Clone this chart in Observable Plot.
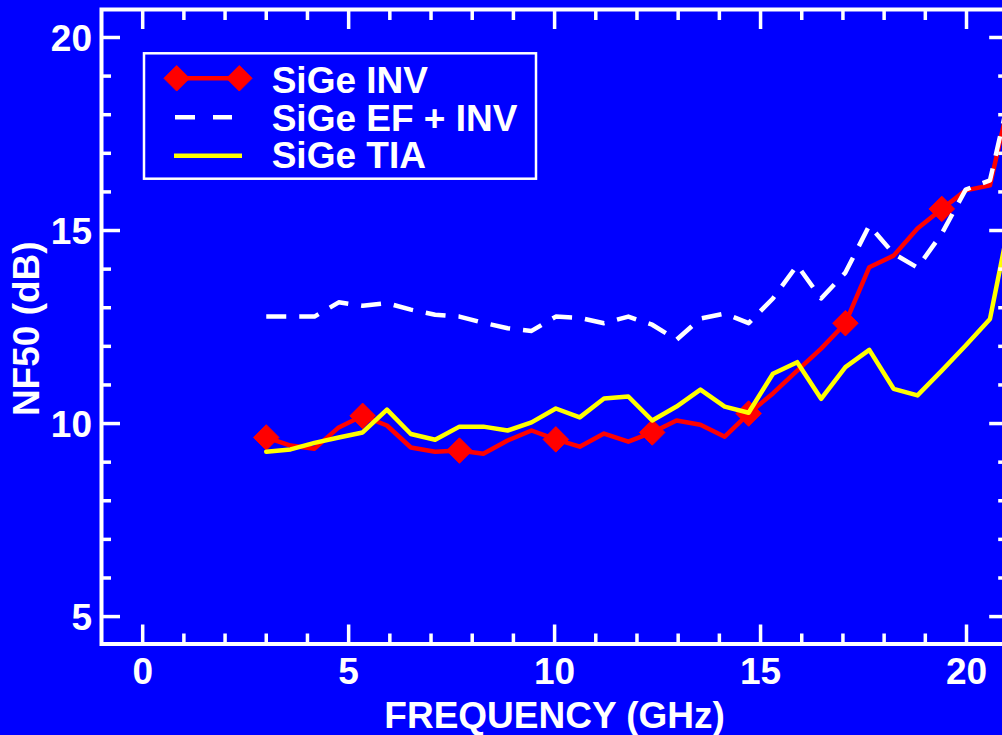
<!DOCTYPE html>
<html><head><meta charset="utf-8">
<script src="https://cdn.jsdelivr.net/npm/d3@7"></script>
<script src="https://cdn.jsdelivr.net/npm/@observablehq/plot@0.6"></script>
<style>
html,body{margin:0;padding:0;background:#0000ff;overflow:hidden;}
#chart{position:relative;width:1002px;height:735px;}
</style></head><body><div id="chart"></div>
<script>
const freq = [3.00, 3.59, 4.17, 4.76, 5.34, 5.93, 6.51, 7.10, 7.69, 8.27, 8.86, 9.44, 10.03, 10.61, 11.20, 11.79, 12.37, 12.96, 13.54, 14.13, 14.71, 15.30, 15.89, 16.47, 17.06, 17.64, 18.23, 18.81, 19.40, 19.98, 20.57, 21.15];
const sigeInv = [9.64, 9.43, 9.35, 9.90, 10.20, 9.95, 9.38, 9.27, 9.30, 9.22, 9.56, 9.82, 9.59, 9.40, 9.74, 9.53, 9.77, 10.08, 9.97, 9.66, 10.26, 10.78, 11.37, 11.94, 12.60, 14.05, 14.35, 15.05, 15.56, 16.04, 16.17, 18.90];
const sigeEfInv = [12.77, 12.77, 12.77, 13.14, 13.05, 13.12, 12.95, 12.82, 12.77, 12.61, 12.47, 12.40, 12.77, 12.74, 12.60, 12.77, 12.56, 12.17, 12.72, 12.85, 12.60, 13.24, 14.10, 13.24, 13.91, 15.13, 14.40, 14.04, 14.92, 16.06, 16.30, 19.00];
const sigeTia = [9.27, 9.33, 9.50, 9.64, 9.77, 10.36, 9.73, 9.58, 9.92, 9.92, 9.82, 10.03, 10.39, 10.16, 10.65, 10.70, 10.08, 10.44, 10.88, 10.44, 10.28, 11.29, 11.59, 10.64, 11.46, 11.91, 10.90, 10.73, 11.37, 12.02, 12.71, 15.80];
const seriesNames = ["SiGe INV", "SiGe EF + INV", "SiGe TIA"];
const xMajorTicks = [0, 5, 10, 15, 20];
const xMinorTicks = [1, 2, 3, 4, 6, 7, 8, 9, 11, 12, 13, 14, 16, 17, 18, 19];
const yMajorTicks = [5, 10, 15, 20];
const yMinorTicks = [6, 7, 8, 9, 11, 12, 13, 14, 16, 17, 18, 19];
const xLabel = "FREQUENCY (GHz)";
const yLabel = "NF50 (dB)";

const rows = (vals) => freq.map((f, i) => ({freq: f, nf: vals[i]}));
const invRows = rows(sigeInv), efRows = rows(sigeEfInv), tiaRows = rows(sigeTia);

const font = "'Liberation Sans', Arial, Helvetica, sans-serif";
const tickStyle = {tickFormat: () => "", strokeWidth: 3.5, label: null, stroke: "white"};

const chart = Plot.plot({
  width: 1002, height: 735,
  marginLeft: 101, marginRight: -5.2, marginTop: 9, marginBottom: 91.5,
  x: {domain: [-1, 21]},
  y: {domain: [4.29, 20.725]},
  style: {background: "#0000ff", color: "white", fontFamily: font, fontSize: "37px", fontWeight: "bold", overflow: "hidden"},
  marks: [
    Plot.line(invRows, {x: "freq", y: "nf", stroke: "#ff0000", strokeWidth: 4.5}),
    Plot.dot(invRows.filter((d, i) => i % 4 === 0), {x: "freq", y: "nf", symbol: "diamond2", r: 11.5, fill: "#ff0000", stroke: "#ff0000", strokeWidth: 1}),
    Plot.line(efRows, {x: "freq", y: "nf", stroke: "white", strokeWidth: 4.5, strokeDasharray: "20,13", strokeLinecap: "butt"}),
    Plot.line(tiaRows, {x: "freq", y: "nf", stroke: "#ffff00", strokeWidth: 4.5}),
    Plot.frame({stroke: "white", strokeWidth: 4}),
    ...["bottom", "top"].flatMap(a => [
      Plot.axisX(xMajorTicks, {anchor: a, tickSize: -19, ...tickStyle}),
      Plot.axisX(xMinorTicks, {anchor: a, tickSize: -10, ...tickStyle})
    ]),
    ...["left", "right"].flatMap(a => [
      Plot.axisY(yMajorTicks, {anchor: a, tickSize: -19, ...tickStyle}),
      Plot.axisY(yMinorTicks, {anchor: a, tickSize: -10, ...tickStyle})
    ]),
    Plot.axisX(xMajorTicks, {anchor: "bottom", tickSize: 0, tickPadding: 13.5, label: null, fill: "white"}),
    Plot.axisY(yMajorTicks, {anchor: "left", tickSize: 0, tickPadding: 9.5, label: null, fill: "white", dy: 2}),
    Plot.text([xLabel], {frameAnchor: "bottom", dy: 83.5, lineAnchor: "bottom", textAnchor: "middle", text: d => d, fill: "white"}),
    Plot.text([yLabel], {frameAnchor: "left", dx: -63, dy: 2, rotate: -90, lineAnchor: "bottom", textAnchor: "middle", text: d => d, fill: "white"})
  ]
});
document.getElementById("chart").appendChild(chart);

// legend box
const svg = d3.select(chart);
const g = svg.append("g").attr("font-family", font).attr("font-weight", "bold").attr("font-size", "37px").attr("text-anchor", "start");
g.append("rect").attr("x", 144).attr("y", 53.3).attr("width", 392).attr("height", 125.4)
  .attr("fill", "#0000ff").attr("stroke", "white").attr("stroke-width", 2.5);
const rowY = [78.3, 117.3, 155.7];
const baseY = [92.7, 130.7, 168.3];
g.append("line").attr("x1", 176.7).attr("x2", 239.3).attr("y1", rowY[0]).attr("y2", rowY[0]).attr("stroke", "#ff0000").attr("stroke-width", 4.5);
const diamond = d3.symbol(d3.symbolDiamond2, 11.5 * 11.5 * Math.PI);
[176.7, 239.3].forEach(cx => g.append("path").attr("d", diamond()).attr("transform", `translate(${cx},${rowY[0]})`).attr("fill", "#ff0000").attr("stroke", "#ff0000"));
g.append("line").attr("x1", 175).attr("x2", 232).attr("y1", rowY[1]).attr("y2", rowY[1]).attr("stroke", "white").attr("stroke-width", 4.5).attr("stroke-dasharray", "20,18");
g.append("line").attr("x1", 174).attr("x2", 242).attr("y1", rowY[2]).attr("y2", rowY[2]).attr("stroke", "#ffff00").attr("stroke-width", 4.5);
seriesNames.forEach((name, i) => g.append("text").attr("x", 271.7).attr("y", baseY[i]).attr("fill", "white").attr("text-anchor", "start").text(name));
</script></body></html>
